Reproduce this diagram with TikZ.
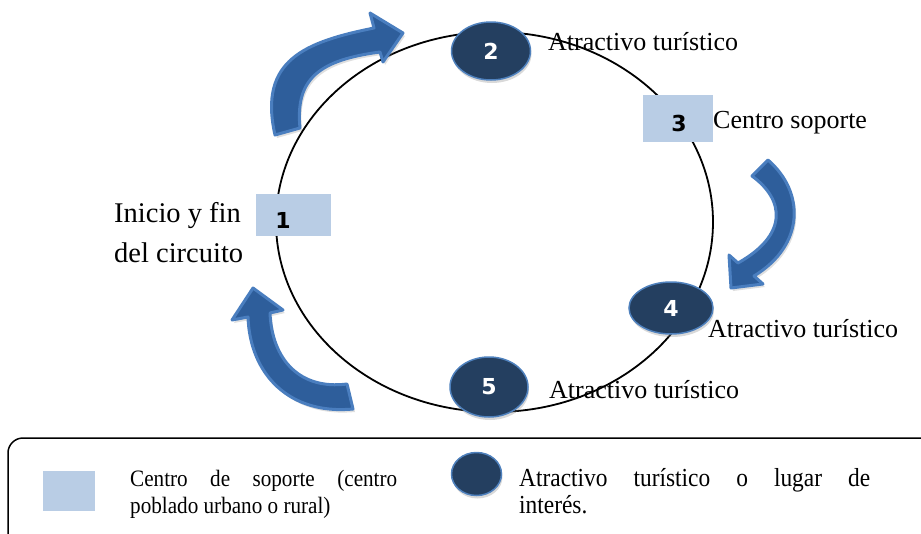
\documentclass[tikz,border=0pt]{standalone}
\usepackage{fontspec}
\setmainfont{Liberation Serif}
\newfontfamily\numfont{DejaVu Sans}
\newfontfamily\condserif{Liberation Serif}[FakeStretch=0.9]
\usetikzlibrary{shapes.geometric,shadows}
\definecolor{boxblue}{HTML}{B9CDE5}
\definecolor{navy}{HTML}{243F60}
\definecolor{rimblue}{HTML}{4F81BD}
\definecolor{arrowfill}{HTML}{2E5E9B}
\definecolor{arrowrim}{HTML}{4A7EBF}
\tikzset{
  site/.style={ellipse, draw=rimblue, line width=1.5pt, fill=navy, inner sep=0pt,
    text=white, font=\numfont\bfseries\fontsize{22}{22}\selectfont,
    drop shadow={shadow xshift=1pt, shadow yshift=-3pt, opacity=0.3}},
  supp/.style={rectangle, fill=boxblue, inner sep=0pt},
  num/.style={inner sep=0pt, text=black, font=\numfont\bfseries\fontsize{22}{22}\selectfont},
  lbl/.style={anchor=base west, inner sep=0pt, font=\fontsize{26}{26}\selectfont},
  bigarrow/.style={fill=arrowfill, draw=arrowrim, line width=3pt, line join=round,
    drop shadow={shadow xshift=2pt, shadow yshift=-3pt, opacity=0.25}},
}
\begin{document}
\begin{tikzpicture}[x=1pt,y=-1pt]
\useasboundingbox (0,0) rectangle (921,533);
\clip (0,0) rectangle (921,533);
% circuit ring
\node[ellipse, draw=black, line width=1.8pt, minimum width=437pt, minimum height=380pt, inner sep=0pt] (ring) at (494.5,222) {};
% curved arrows
\path[bigarrow] (275,135) .. controls (258,60) and (305,42) .. (374,28) -- (370,13) -- (403,33) -- (383,62) -- (380,52) .. controls (320,60) and (295,78) .. (300,128) -- cycle;
\path[bigarrow] (768,160) .. controls (805,192) and (805,245) .. (754,276) -- (763,284) -- (731,288) -- (729,255) -- (738,263) .. controls (788,235) and (785,200) .. (752,176) -- cycle;
\path[bigarrow] (353,409) .. controls (290,415) and (250,375) .. (248,317) -- (232,320) -- (253,288) -- (283,310) -- (270,313) .. controls (272,360) and (300,390) .. (347,384) -- cycle;
% stops
\node[supp, minimum width=75pt, minimum height=42pt] (n1) at (293.5,215) {};
\node[num] (t1) at (283,220) {1};
\node[site, minimum width=79pt, minimum height=58pt] (n2) at (491,51) {2};
\node[supp, minimum width=70pt, minimum height=47pt] (n3) at (678,118.5) {};
\node[num] (t3) at (679,123.5) {3};
\node[site, minimum width=84pt, minimum height=52pt] (n4) at (671,308) {4};
\node[site, minimum width=78pt, minimum height=60pt] (n5) at (489,387) {5};
% labels
\node[anchor=base west, inner sep=0pt] (l1) at (114,222) {\parbox[t]{200pt}{\fontsize{28.5}{40}\selectfont Inicio y fin\\del circuito}};
\node[lbl] (l2) at (548,50) {Atractivo turístico};
\node[lbl] (l3) at (713,128) {Centro soporte};
\node[lbl] (l4) at (708,337) {Atractivo turístico};
\node[lbl] (l5) at (549,398) {Atractivo turístico};
% legend
\draw[line width=1.5pt, rounded corners=15pt] (8,560) -- (8,438) -- (940,438);
\node[supp, minimum width=52pt, minimum height=40pt] (k1) at (69,491) {};
\node[anchor=base west, inner sep=0pt] (kt1) at (130,486) {\parbox[t]{267pt}{\condserif\fontsize{23.5}{27}\selectfont\hbox to 267pt{Centro\hfill de\hfill soporte\hfill (centro}\par poblado urbano o rural)}};
\node[site, minimum width=50pt, minimum height=43pt] (k2) at (476.5,474) {};
\node[anchor=base west, inner sep=0pt] (kt2) at (519,486) {\parbox[t]{351pt}{\condserif\fontsize{26}{27}\selectfont\hbox to 351pt{Atractivo\hfill turístico\hfill o\hfill lugar\hfill de}\par interés.}};
\end{tikzpicture}
\end{document}
